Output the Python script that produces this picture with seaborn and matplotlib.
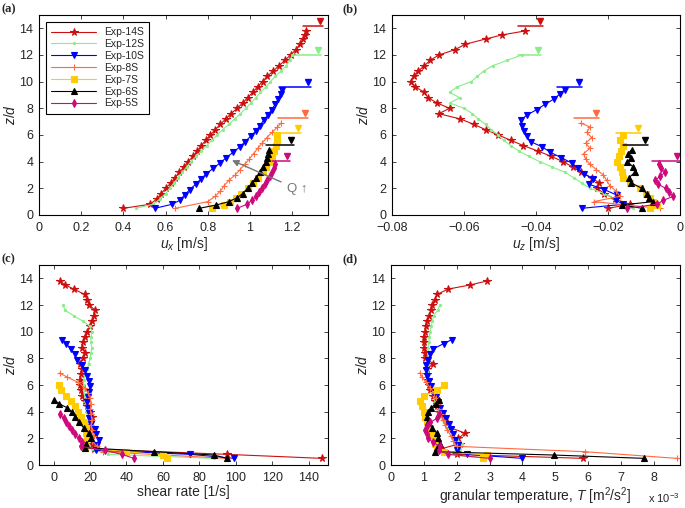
import matplotlib
matplotlib.use("Agg")
import matplotlib.pyplot as plt
import matplotlib.transforms as mtransforms
import seaborn as sns

# ---------------------------
# Datos
# ---------------------------
names = ["Exp-14S", "Exp-12S", "Exp-10S", "Exp-8S", "Exp-7S", "Exp-6S", "Exp-5S"]

z_14 = [0.5, 0.8, 1.2, 1.6, 2.0, 2.4, 2.8, 3.2, 3.6, 4.0, 4.4, 4.8, 5.2, 5.6, 6.0, 6.4, 6.8, 7.2,
        7.6, 8.0, 8.4, 8.8, 9.2, 9.6, 10.0, 10.4, 10.8, 11.2, 11.6, 12.0, 12.4, 12.8, 13.2, 13.5, 13.8]
ux_14 = [0.40, 0.525, 0.56, 0.58, 0.60, 0.625, 0.645, 0.665, 0.688, 0.707, 0.73, 0.75, 0.77, 0.79,
         0.813, 0.835, 0.86, 0.885, 0.91, 0.94, 0.965, 0.99, 1.013, 1.036, 1.06, 1.082, 1.11, 1.138,
         1.166, 1.193, 1.218, 1.236, 1.252, 1.26, 1.268]
uz_14 = [-0.0199, -0.014, -0.018, -0.021, -0.023, -0.0225, -0.0245, -0.0275, -0.0298, -0.0325,
         -0.0358, -0.0395, -0.0435, -0.047, -0.0505, -0.054, -0.0573, -0.061, -0.067, -0.064,
         -0.0675, -0.07, -0.071, -0.0735, -0.0748, -0.074, -0.0727, -0.071, -0.0694, -0.067,
         -0.0625, -0.0597, -0.054, -0.0495, -0.0431]
sr_14 = [147, 95, 22, 21, 20, 19.5, 20.5, 20, 21, 20.2, 18.3, 17, 15.5, 15, 14.7, 14.3, 15, 15.6,
         14.7, 16, 17.4, 15.6, 16, 17, 18.3, 20.2, 21.1, 22, 22.9, 19.5, 18.3, 17, 11, 6.5, 3.3]
T_14 = [5.86, 2.0, 1.5, 2.1, 2.05, 2.25, 1.8, 1.7, 1.6, 1.45, 1.4, 1.35, 1.28, 1.2, 1.15, 1.14,
        1.1, 1.09, 1.29, 1.05, 1.04, 1.02, 0.99, 1.0, 1.04, 1.07, 1.09, 1.17, 1.22, 1.26, 1.33,
        1.4, 1.75, 2.4, 2.92]

z_12 = [0.5, 0.8, 1.2, 1.6, 2.0, 2.4, 2.8, 3.2, 3.6, 4.0, 4.4, 4.8, 5.2, 5.6, 6.0, 6.4, 6.8, 7.2,
        7.6, 8.0, 8.4, 8.8, 9.2, 9.6, 10.0, 10.4, 10.8, 11.2, 11.6, 12.0]
ux_12 = [0.46, 0.54, 0.575, 0.60, 0.62, 0.64, 0.66, 0.68, 0.70, 0.72, 0.745, 0.77, 0.795, 0.82,
         0.845, 0.87, 0.90, 0.927, 0.955, 0.98, 1.005, 1.028, 1.05, 1.075, 1.097, 1.12, 1.148,
         1.172, 1.19, 1.2]
uz_12 = [-0.013, -0.016, -0.018, -0.021, -0.025, -0.0273, -0.0295, -0.032, -0.0355, -0.039,
         -0.042, -0.0448, -0.047, -0.049, -0.0505, -0.0525, -0.054, -0.056, -0.0577, -0.060,
         -0.0639, -0.0612, -0.064, -0.062, -0.058, -0.0563, -0.0545, -0.052, -0.048, -0.044]
sr_12 = [88, 30, 21, 19, 18, 20, 19, 18.5, 19, 18, 18, 17.5, 17, 16.5, 16.5, 16.5, 17.4, 18.5,
         19.2, 20.2, 20.5, 21, 20.5, 20.5, 21, 20, 16, 11, 6.4, 5.1]
T_12 = [3.0, 1.7, 2.1, 2.15, 2.0, 1.85, 1.7, 1.6, 1.5, 1.45, 1.4, 1.35, 1.3, 1.25, 1.2, 1.18,
        1.15, 1.14, 1.13, 1.12, 1.13, 1.14, 1.15, 1.17, 1.19, 1.22, 1.26, 1.3, 1.42, 1.49]

z_10 = [0.5, 0.8, 1.1, 1.5, 1.9, 2.3, 2.7, 3.1, 3.5, 3.9, 4.3, 4.7, 5.1, 5.5, 5.9, 6.3, 6.7, 7.1,
        7.5, 7.9, 8.3, 8.7, 9.1, 9.4]
ux_10 = [0.55, 0.63, 0.668, 0.69, 0.715, 0.742, 0.768, 0.794, 0.826, 0.858, 0.888, 0.92, 0.952,
         0.977, 1.003, 1.028, 1.047, 1.065, 1.085, 1.103, 1.12, 1.134, 1.145, 1.15]
uz_10 = [-0.0273, -0.0157, -0.0178, -0.0176, -0.021, -0.0252, -0.0243, -0.0266, -0.0284, -0.0301,
         -0.033, -0.036, -0.0382, -0.0415, -0.0426, -0.0433, -0.044, -0.0443, -0.0425, -0.0398,
         -0.0375, -0.035, -0.0333, -0.032]
sr_10 = [99, 75, 23, 24, 24.7, 23.5, 22.5, 20.5, 19.7, 19.2, 18.8, 18.3, 19, 19.5, 20.2, 19.5,
         18.5, 17, 15.6, 12.8, 11.5, 9.5, 7, 4.6]
T_10 = [4.0, 2.3, 2.0, 2.05, 1.96, 1.89, 1.83, 1.76, 1.68, 1.58, 1.5, 1.42, 1.36, 1.29, 1.22,
        1.15, 1.09, 1.08, 1.07, 1.12, 1.2, 1.28, 1.6, 1.85]

z_8 = [0.5, 1.0, 1.4, 1.8, 2.2, 2.6, 3.0, 3.4, 3.8, 4.2, 4.6, 5.0, 5.4, 5.8, 6.2, 6.6, 6.9]
ux_8 = [0.645, 0.80, 0.835, 0.86, 0.878, 0.90, 0.93, 0.953, 0.975, 0.997, 1.017, 1.037, 1.058,
        1.08, 1.105, 1.13, 1.148]
uz_8 = [-0.0056, -0.024, -0.0167, -0.0178, -0.0195, -0.0204, -0.0213, -0.0232, -0.025, -0.0262,
        -0.0268, -0.025, -0.0262, -0.0245, -0.0259, -0.025, -0.0276]
sr_8 = [95, 27, 24, 21, 22, 21, 20.5, 21, 20.5, 20.2, 20.5, 20.2, 19, 17, 13.5, 7.4, 3.3]
T_8 = [8.7, 5.9, 2.0, 1.9, 1.82, 1.72, 1.65, 1.58, 1.52, 1.47, 1.42, 1.36, 1.3, 1.2, 1.06, 0.95, 0.88]

z_7 = [0.5, 0.75, 1.0, 1.3, 1.6, 2.0, 2.4, 2.8, 3.2, 3.6, 4.0, 4.4, 4.8, 5.2, 5.6, 6.0]
ux_7 = [0.82, 0.875, 0.905, 0.935, 0.96, 0.99, 1.015, 1.04, 1.06, 1.078, 1.093, 1.105, 1.115,
        1.122, 1.128, 1.13]
uz_7 = [-0.0083, -0.0065, -0.0074, -0.0083, -0.0095, -0.011, -0.0138, -0.0157, -0.0162, -0.0167,
        -0.0176, -0.017, -0.0165, -0.0157, -0.0167, -0.0158]
sr_7 = [62, 60, 40, 17, 17, 18.5, 18, 18, 16.5, 15, 13.5, 12, 9.5, 6.8, 4.2, 2.8]
T_7 = [2.8, 2.92, 1.6, 1.4, 1.35, 1.3, 1.25, 1.18, 1.1, 1.05, 0.99, 0.94, 0.88, 1.0, 1.39, 1.6]

z_6 = [0.5, 0.75, 1.0, 1.3, 1.6, 2.0, 2.4, 2.8, 3.2, 3.6, 4.0, 4.3, 4.6, 4.9]
ux_6 = [0.76, 0.84, 0.9, 0.94, 0.965, 0.99, 1.01, 1.03, 1.05, 1.063, 1.075, 1.082, 1.088, 1.09]
uz_6 = [-0.0105, -0.0162, -0.0074, -0.0085, -0.0093, -0.0106, -0.0135, -0.0142, -0.0125, -0.013,
        -0.0146, -0.0135, -0.0145, -0.0134]
sr_6 = [95, 88, 55, 17, 18, 20.5, 19.5, 16.5, 13.8, 12, 10, 7.4, 3, 0]
T_6 = [7.7, 4.95, 1.35, 1.4, 1.48, 1.44, 1.39, 1.25, 1.12, 1.09, 1.14, 1.22, 1.38, 1.45]

z_5 = [0.5, 0.8, 1.1, 1.4, 1.7, 2.0, 2.3, 2.6, 2.9, 3.2, 3.5, 3.8]
ux_5 = [0.94, 0.985, 1.01, 1.03, 1.045, 1.058, 1.07, 1.083, 1.094, 1.105, 1.115, 1.12]
uz_5 = [-0.0148, -0.0065, -0.0046, -0.0019, -0.003, -0.004, -0.006, -0.0069, -0.0055, -0.0042,
        -0.0053, -0.0057]
sr_5 = [44, 37.5, 28, 15, 15.6, 13.8, 11.5, 10, 8.5, 7, 5.5, 3.7]
T_5 = [3.0, 1.75, 1.45, 1.49, 1.27, 1.14, 1.1, 1.05, 1.1, 1.2, 1.4, 1.45]

# superficie libre (z/d) y extremos de la línea en (a) y (b)
h_surf = [14.15, 12.03, 9.6, 7.3, 6.18, 5.23, 4.04]
a_left = [1.25, 1.205, 1.138, 1.134, 1.123, 1.078, 1.107]
a_right = [1.345, 1.339, 1.288, 1.276, 1.244, 1.21, 1.189]
b_left = [-0.045, -0.045, -0.0341, -0.0294, -0.0178, -0.0158, -0.0079]
b_right = [-0.038, -0.0385, -0.0271, -0.0224, -0.0107, -0.0088, 0.0]

colores = ["#cc1010", "#86ef86", "#0000ff", "#ff6a40", "#ffcc00", "#000000", "#cc0a7a"]
marcadores = ["*", ".", "v", "+", "s", "^", "d"]
tamanos = [5.5, 3, 4.5, 5, 4, 4.5, 4]

z_all = [z_14, z_12, z_10, z_8, z_7, z_6, z_5]
ux_all = [ux_14, ux_12, ux_10, ux_8, ux_7, ux_6, ux_5]
uz_all = [uz_14, uz_12, uz_10, uz_8, uz_7, uz_6, uz_5]
sr_all = [sr_14, sr_12, sr_10, sr_8, sr_7, sr_6, sr_5]
T_all = [T_14, T_12, T_10, T_8, T_7, T_6, T_5]

# ---------------------------
# Estilo
# ---------------------------
sns.set_style("ticks")
plt.rcParams['font.family'] = ['Liberation Sans', 'DejaVu Sans']
plt.rcParams['mathtext.fontset'] = 'custom'
plt.rcParams['mathtext.rm'] = 'Liberation Sans'
plt.rcParams['mathtext.it'] = 'Liberation Sans:italic'
plt.rcParams['axes.linewidth'] = 0.8

fig = plt.figure(figsize=(6.85, 5.08), dpi=100)
ax_a = fig.add_axes([0.0569, 0.5768, 0.4219, 0.3937])
ax_b = fig.add_axes([0.5723, 0.5768, 0.4204, 0.3937])
ax_c = fig.add_axes([0.0569, 0.0846, 0.4219, 0.3937])
ax_d = fig.add_axes([0.5708, 0.0846, 0.4219, 0.3937])

for ax, datos in [(ax_a, ux_all), (ax_b, uz_all), (ax_c, sr_all), (ax_d, T_all)]:
    for i in range(len(names)):
        sns.lineplot(x=datos[i], y=z_all[i], ax=ax, sort=False, estimator=None, legend=False,
                     color=colores[i], marker=marcadores[i], markersize=tamanos[i],
                     markeredgecolor=colores[i], markeredgewidth=0.8, linewidth=0.8,
                     label=names[i] if ax is ax_a else None)

# líneas de superficie libre con triángulo
for ax, izq, der in [(ax_a, a_left, a_right), (ax_b, b_left, b_right)]:
    tri = mtransforms.offset_copy(ax.transData, fig=fig, x=-3, y=5, units='dots')
    for i in range(len(names)):
        ax.plot([izq[i], der[i]], [h_surf[i], h_surf[i]], color=colores[i], lw=1.1)
        ax.plot([der[i]], [h_surf[i]], marker='v', color=colores[i], ms=5, transform=tri)

ax_a.annotate("Q \u2191", xy=(0.915, 4.1), xytext=(1.175, 1.95), color='#777777', fontsize=9.5,
              va='center', ha='left',
              arrowprops=dict(arrowstyle='-|>', color='#777777', lw=1, shrinkA=2, shrinkB=0))

# ejes
ax_a.set_xlim(0, 1.37)
ax_a.set_xticks([0, 0.2, 0.4, 0.6, 0.8, 1.0, 1.2])
ax_a.set_xticklabels(["0", "0.2", "0.4", "0.6", "0.8", "1", "1.2"])
ax_a.set_xlabel(r"$u_x$ [m/s]", fontsize=10, labelpad=1)

ax_b.set_xlim(-0.08, 0)
ax_b.set_xticks([-0.08, -0.06, -0.04, -0.02, 0])
ax_b.set_xticklabels(["\u22120.08", "\u22120.06", "\u22120.04", "\u22120.02", "0"])
ax_b.set_xlabel(r"$u_z$ [m/s]", fontsize=10, labelpad=1)

ax_c.set_xlim(-8, 150.5)
ax_c.set_xticks(range(0, 141, 20))
ax_c.set_xlabel("shear rate [1/s]", fontsize=10, labelpad=1)

ax_d.set_xlim(0, 8.8)
ax_d.set_xticks(range(0, 9))
ax_d.set_xlabel(r"granular temperature, $T$ [m$^2$/s$^2$]", fontsize=10, labelpad=1)
ax_d.text(1.0, -0.165, r"x 10$^{-3}$", transform=ax_d.transAxes, ha='right', va='center',
          fontsize=8)

for ax in [ax_a, ax_b, ax_c, ax_d]:
    ax.set_ylim(0, 15)
    ax.set_yticks(range(0, 15, 2))
    ax.set_ylabel(r"$z/d$", fontsize=10, labelpad=1)
    ax.tick_params(direction='in', top=True, right=True, length=3, width=0.6, labelsize=9)
    ax.tick_params(axis='x', pad=5)
    ax.tick_params(axis='y', pad=4)
    for s in ax.spines.values():
        s.set_color('black')

handles, labels = ax_a.get_legend_handles_labels()
ax_a.legend(handles[:7], labels[:7], loc='upper left', bbox_to_anchor=(0.024, 0.965),
            borderaxespad=0, fontsize=7.5, handlelength=4.3, labelspacing=0.18,
            frameon=True, fancybox=False, framealpha=1, edgecolor='black', borderpad=0.5)
ax_a.get_legend().get_frame().set_linewidth(0.8)

for txt, x, y in [("(a)", 0.002, 0.982), ("(b)", 0.5, 0.982),
                  ("(c)", 0.002, 0.49), ("(d)", 0.5, 0.49)]:
    fig.text(x, y, txt, fontsize=9, fontweight='bold', family='Liberation Serif',
             ha='left', va='center')

fig.savefig("out.png", dpi=100)
